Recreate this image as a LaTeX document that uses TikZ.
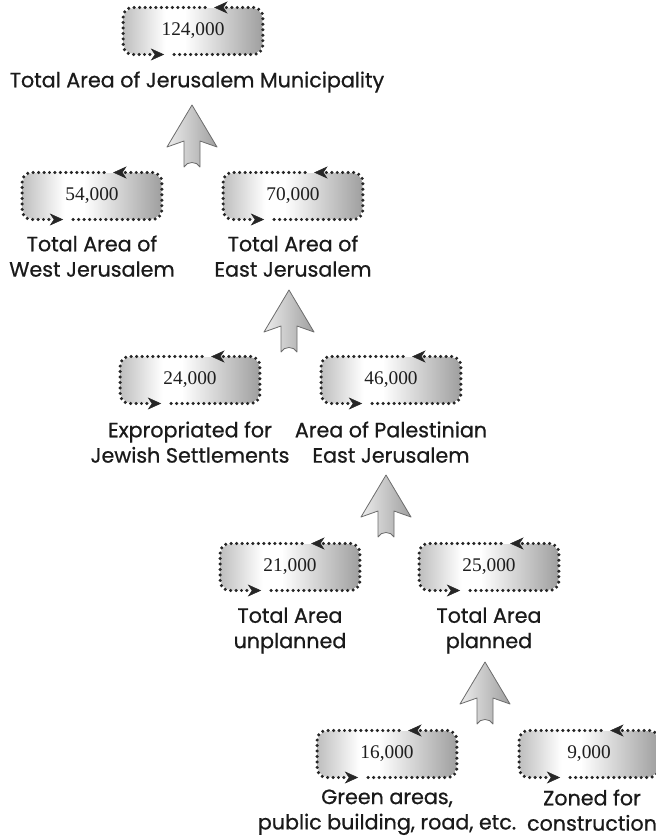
\documentclass[tikz,border=0pt]{standalone}
\usepackage{fontspec}
\setmainfont[FakeBold=0.7]{Poppins}
\newfontfamily\numfont{Liberation Serif}
\usetikzlibrary{arrows.meta,calc}

\definecolor{labelink}{HTML}{1A1A1A}
\definecolor{numink}{HTML}{1E1E1E}

% grey - white - grey fill of the number boxes
\pgfdeclarehorizontalshading{boxshade}{100bp}{color(0bp)=(gray!50); color(25bp)=(gray!50); color(40bp)=(white); color(47bp)=(white); color(75bp)=(gray!75); color(100bp)=(gray!75)}

\tikzset{every picture/.style={line width=0.75pt}}
\tikzset{
  areabox/.style={rectangle, rounded corners=8pt, shading=boxshade, minimum width=104pt, minimum height=34.5pt, inner sep=0pt, text=numink, font=\numfont\fontsize{14.5}{16}\selectfont},
  arealabel/.style={anchor=north, align=center, inner sep=0pt, text=labelink, font=\fontsize{15.5}{19}\selectfont},
  dotframe/.style={line width=2.6pt, dash pattern=on 0pt off 4.1pt, line cap=round, draw=black!85, rounded corners=7pt},
  flowtip/.style={-{Stealth[length=10pt,width=9pt,inset=3pt,line width=0.4pt]}},
  bigup/.pic={
    \shadedraw[left color=gray!15, right color=gray!75, draw=gray!85!black, line width=0.6pt, line join=round]
      (0,0) -- (25,-42) -- (8,-36) -- (8,-62) .. controls (5,-56) and (-5,-56) .. (-8,-62) -- (-8,-36) -- (-25,-42) -- cycle;
  }
}

% dotted frame with the two little arrows
\newcommand{\flowframe}[1]{%
  \draw[dotframe, flowtip] ($(#1.south west)+(51,0)$) -- (#1.south east) -- (#1.north east) -- ($(#1.north west)+(91,0)$);
  \draw[dotframe, flowtip] ($(#1.north west)+(82,0)$) -- (#1.north west) -- (#1.south west) -- ($(#1.south west)+(41,0)$);
}

\begin{document}
\begin{tikzpicture}[x=0.75pt,y=0.75pt,yscale=-1,xscale=1]
  \useasboundingbox (0,0) rectangle (656,839);

  % Boxes
  \node[areabox] (total) at (193,31) {124,000};
  \node[areabox] (west) at (92,196) {54,000};
  \node[areabox] (east) at (293,196) {70,000};
  \node[areabox] (settle) at (190,380) {24,000};
  \node[areabox] (palest) at (391,380) {46,000};
  \node[areabox] (unplan) at (290,567) {21,000};
  \node[areabox] (plan) at (489,567) {25,000};
  \node[areabox] (green) at (387,754) {16,000};
  \node[areabox] (zoned) at (589,754) {9,000};

  \foreach \b in {total,west,east,settle,palest,unplan,plan,green,zoned}
    \flowframe{\b};

  % Text Node
  \node[arealabel] (total-lbl) at (197,71) {Total Area of Jerusalem Municipality};
  \node[arealabel] (west-lbl) at (92,235) {Total Area of\\West Jerusalem};
  \node[arealabel] (east-lbl) at (293,235) {Total Area of\\East Jerusalem};
  \node[arealabel] (settle-lbl) at (190,421) {Expropriated for\\Jewish Settlements};
  \node[arealabel] (palest-lbl) at (391,421) {Area of Palestinian\\East Jerusalem};
  \node[arealabel] (unplan-lbl) at (290,607) {Total Area\\unplanned};
  \node[arealabel] (plan-lbl) at (489,607) {Total Area\\planned};
  \node[arealabel] (green-lbl) at (387,789) {Green areas,\\public building, road, etc.};
  \node[arealabel] (zoned-lbl) at (592,789) {Zoned for\\construction};

  % Big arrows
  \coordinate (up1) at (192,105);
  \coordinate (up2) at (289,290);
  \coordinate (up3) at (386,475);
  \coordinate (up4) at (485,662);
  \foreach \u in {up1,up2,up3,up4}
    \pic at (\u) {bigup};

\end{tikzpicture}
\end{document}
